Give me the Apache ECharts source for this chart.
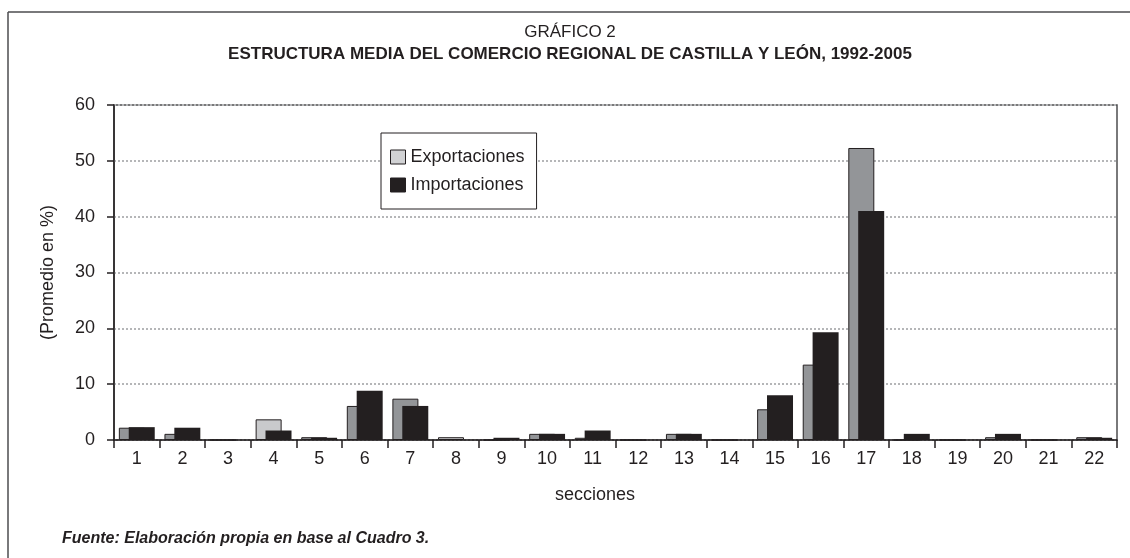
<!DOCTYPE html>
<html>
<head>
<meta charset="utf-8">
<script src="https://cdn.jsdelivr.net/npm/echarts@6/dist/echarts.min.js"></script>
<style>
html,body{margin:0;padding:0;background:#fff;}
#chart{width:1130px;height:558px;}
</style>
</head>
<body>
<div id="chart"></div>
<script>
const categories = ['1','2','3','4','5','6','7','8','9','10','11','12','13','14','15','16','17','18','19','20','21','22'];
const exportaciones = [2.2, 1.1, 0, 3.7, 0.5, 6.1, 7.4, 0.5, 0, 1.1, 0.4, 0, 1.1, 0, 5.5, 13.5, 52.3, 0, 0, 0.5, 0, 0.5];
const importaciones = [2.3, 2.2, 0, 1.7, 0.4, 8.8, 6.1, 0, 0.4, 1.1, 1.7, 0, 1.1, 0, 8.0, 19.3, 41.0, 1.1, 0, 1.1, 0, 0.4];
const yTicks = [0, 10, 20, 30, 40, 50, 60];

const lightExportIdx = [3, 7];
const FONT = '"Liberation Sans", Arial, sans-serif';

const chart = echarts.init(document.getElementById('chart'), null, {renderer: 'canvas'});
chart.setOption({
  animation: false,
  backgroundColor: '#fff',
  textStyle: {fontFamily: FONT, color: '#231f20'},
  grid: {left: 114, right: 13, top: 105, bottom: 118, show: true, borderColor: '#4d4d4f', borderWidth: 1.5, backgroundColor: 'transparent'},
  legend: {
    orient: 'vertical', left: 381, top: 133,
    backgroundColor: '#fff', borderColor: '#231f20', borderWidth: 1,
    padding: [15, 12, 15, 9],
    itemWidth: 15, itemHeight: 14, itemGap: 10,
    textStyle: {fontFamily: FONT, fontSize: 18, color: '#231f20'},
    data: [
      {name: 'Exportaciones', icon: 'rect', itemStyle: {color: '#d1d2d4', borderColor: '#231f20', borderWidth: 1}},
      {name: 'Importaciones', icon: 'rect', itemStyle: {color: '#231f20', borderColor: '#231f20', borderWidth: 1}}
    ]
  },
  xAxis: {
    type: 'category', data: categories, boundaryGap: true,
    axisLine: {lineStyle: {color: '#231f20', width: 1.5}},
    axisTick: {show: true, length: 8, inside: false, lineStyle: {color: '#231f20', width: 1.5}},
    axisLabel: {fontFamily: FONT, fontSize: 18, color: '#231f20', margin: 10, interval: 0},
    splitLine: {show: false}
  },
  yAxis: {
    type: 'value', min: yTicks[0], max: yTicks[yTicks.length - 1], interval: 10,
    name: '(Promedio en %)', nameLocation: 'middle', nameGap: 57, nameRotate: 90,
    nameTextStyle: {fontFamily: FONT, fontSize: 18, color: '#231f20'},
    axisLine: {show: true, lineStyle: {color: '#231f20', width: 1.5}},
    axisTick: {show: true, length: 7, lineStyle: {color: '#231f20', width: 1.5}},
    axisLabel: {fontFamily: FONT, fontSize: 18, color: '#231f20', margin: 19},
    splitLine: {show: true, lineStyle: {color: '#b5b6b8', width: 2, type: [2, 2]}}
  },
  series: [
    {
      name: 'Exportaciones', type: 'bar', barWidth: 26, barGap: '-62%',
      itemStyle: {color: '#939598', borderColor: '#231f20', borderWidth: 1},
      data: exportaciones.map((v, i) => lightExportIdx.includes(i) ? {value: v, itemStyle: {color: '#c9cacc'}} : v)
    },
    {
      name: 'Importaciones', type: 'bar', barWidth: 26, barGap: '-62%',
      itemStyle: {color: '#231f20', borderColor: '#231f20', borderWidth: 0},
      data: importaciones
    }
  ],
  graphic: [
    {type: 'line', shape: {x1: 8, y1: 12, x2: 1130, y2: 12}, style: {stroke: '#4d4d4f', lineWidth: 1.5}},
    {type: 'line', shape: {x1: 8, y1: 12, x2: 8, y2: 558}, style: {stroke: '#4d4d4f', lineWidth: 1.5}},
    {type: 'text', x: 570, y: 32, style: {text: 'GRÁFICO 2', font: '17px ' + FONT, fill: '#231f20', textAlign: 'center', textVerticalAlign: 'middle'}},
    {type: 'text', x: 570, y: 54, style: {text: 'ESTRUCTURA MEDIA DEL COMERCIO REGIONAL DE CASTILLA Y LEÓN, 1992-2005', font: 'bold 17px ' + FONT, fill: '#231f20', textAlign: 'center', textVerticalAlign: 'middle'}},
    {type: 'text', x: 595, y: 495, style: {text: 'secciones', font: '18px ' + FONT, fill: '#231f20', textAlign: 'center', textVerticalAlign: 'middle'}},
    {type: 'text', x: 62, y: 539, style: {text: 'Fuente: Elaboración propia en base al Cuadro 3.', font: 'italic bold 16px ' + FONT, fill: '#231f20', textAlign: 'left', textVerticalAlign: 'middle'}}
  ]
});
</script>
</body>
</html>
